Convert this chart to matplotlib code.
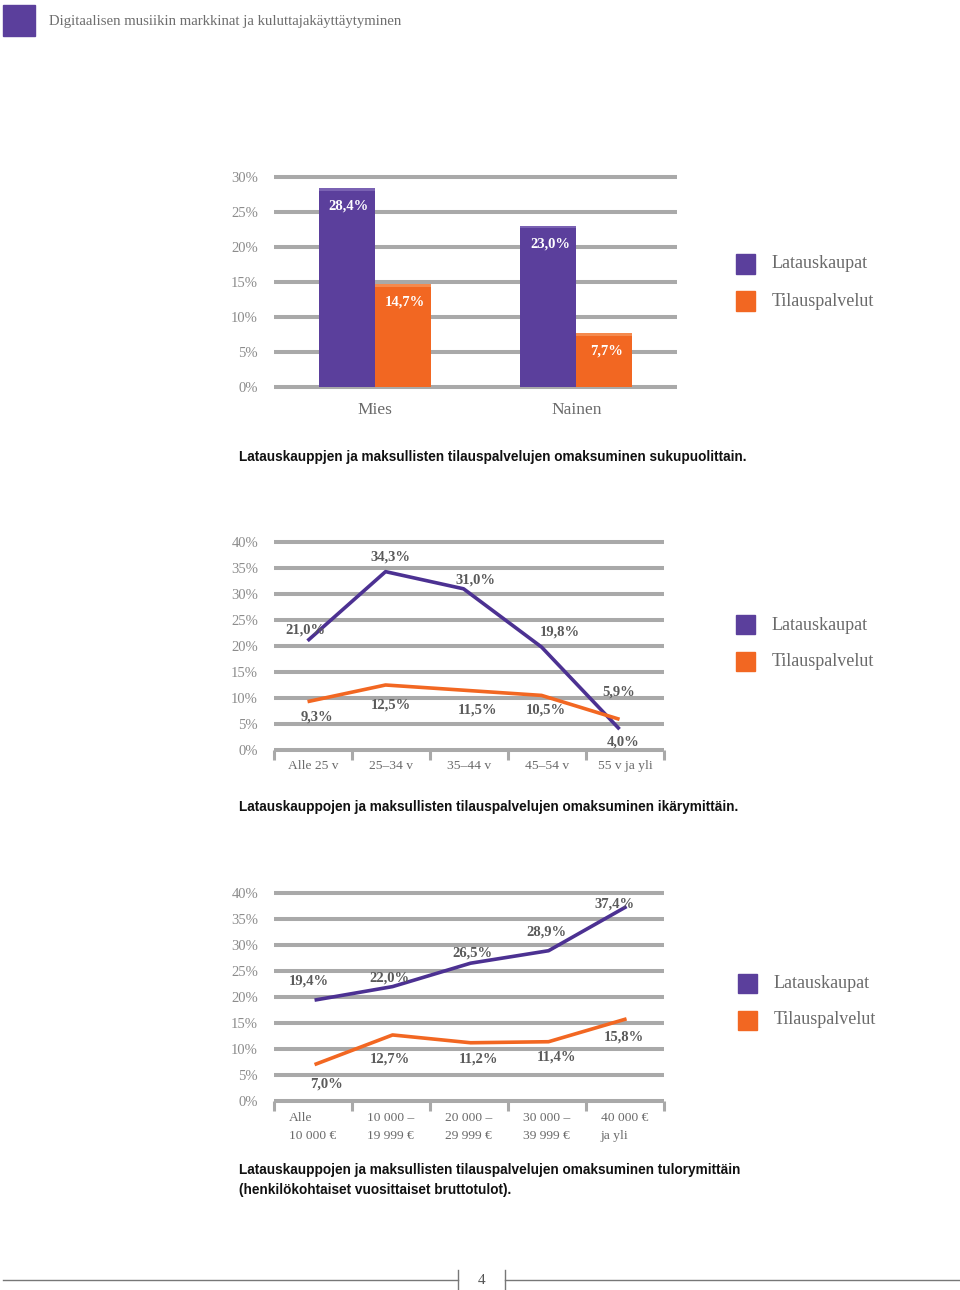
import numpy as np
import matplotlib
matplotlib.use("Agg")
import matplotlib.pyplot as plt
from matplotlib.patches import Rectangle
from matplotlib.lines import Line2D

# --- data ---------------------------------------------------------------
series_names = ["Latauskaupat", "Tilauspalvelut"]

gender_cats = ["Mies", "Nainen"]
gender_lataus = [28.4, 23.0]
gender_tilaus = [14.7, 7.7]

age_cats = ["Alle 25 v", "25–34 v", "35–44 v", "45–54 v", "55 v ja yli"]
age_lataus = [21.0, 34.3, 31.0, 19.8, 4.0]
age_tilaus = [9.3, 12.5, 11.5, 10.5, 5.9]

income_cats = ["Alle\n10 000 €", "10 000 –\n19 999 €", "20 000 –\n29 999 €",
               "30 000 –\n39 999 €", "40 000 €\nja yli"]
income_lataus = [19.4, 22.0, 26.5, 28.9, 37.4]
income_tilaus = [7.0, 12.7, 11.2, 11.4, 15.8]

header = "Digitaalisen musiikin markkinat ja kuluttajakäyttäytyminen"
captions = [
    "Latauskauppjen ja maksullisten tilauspalvelujen omaksuminen sukupuolittain.",
    "Latauskauppojen ja maksullisten tilauspalvelujen omaksuminen ikärymittäin.",
    "Latauskauppojen ja maksullisten tilauspalvelujen omaksuminen tulorymittäin\n(henkilökohtaiset vuosittaiset bruttotulot).",
]
page_no = "4"

# --- style --------------------------------------------------------------
W, H = 960, 1290
PURPLE = "#5b3f9c"
PURPLE_LINE = "#4c3192"
ORANGE = "#f26722"
GRID = "#a9a9a9"
TICK_C = "#8c8c8c"
LABEL_C = "#5a5a5a"
SERIF = ["Liberation Serif", "DejaVu Serif"]
SANS = ["Liberation Sans", "DejaVu Sans"]

plt.rcParams["font.family"] = SERIF

fig = plt.figure(figsize=(W / 100, H / 100), dpi=100)


def fx(x):
    return x / W


def fy(y):
    return 1 - y / H


def make_axes(x0, ytop, x1, ybot):
    return fig.add_axes([fx(x0), fy(ybot), (x1 - x0) / W, (ybot - ytop) / H])


def base_axes(ax, ymax):
    ticks = np.arange(0, ymax + 1, 5)
    for t in ticks:
        ax.axhline(t, color=GRID, lw=2.9, clip_on=False, zorder=0,
                   solid_capstyle="butt")
    ax.set_ylim(0, ymax)
    ax.set_yticks(ticks)
    ax.set_yticklabels([f"{t}%" for t in ticks], color=TICK_C, fontsize=10.5)
    ax.tick_params(axis="y", length=0, pad=11.5)
    for s in ax.spines.values():
        s.set_visible(False)
    ax.set_facecolor("none")


def legend(x, y):
    for i, (name, col) in enumerate(zip(series_names, [PURPLE, ORANGE])):
        yy = y + i * 37
        fig.patches.append(Rectangle((fx(x), fy(yy + 9.5)), 19 / W, 19 / H,
                                     transform=fig.transFigure, color=col))
        fig.text(fx(x + 36), fy(yy), name, fontsize=13, color="#6a6a6a",
                 va="center", ha="left")


def caption(y, text):
    fig.text(fx(239), fy(y), text, fontsize=9.8, fontweight="bold",
             family=SANS, va="center", color="#111111", linespacing=1.6)


# header
fig.patches.append(Rectangle((fx(3), fy(36)), 32 / W, 31 / H,
                             transform=fig.transFigure, color=PURPLE))
fig.text(fx(49), fy(21), header, fontsize=10.6, color="#6e6e6e", va="center")

# --- chart 1: bars ------------------------------------------------------
ax1 = make_axes(274, 177, 677, 387)
base_axes(ax1, 30)
x = np.arange(len(gender_cats))
bw = 0.278
b1 = ax1.bar(x - bw / 2, gender_lataus, bw, color=PURPLE, zorder=2)
b2 = ax1.bar(x + bw / 2, gender_tilaus, bw, color=ORANGE, zorder=2)
# light top edge of bars
ax1.bar(x - bw / 2, [0.35] * len(x), bw, bottom=np.array(gender_lataus) - 0.35,
        color="#7a62b3", zorder=3)
ax1.bar(x + bw / 2, [0.35] * len(x), bw, bottom=np.array(gender_tilaus) - 0.35,
        color="#f58a4e", zorder=3)
for bars, vals in ((b1, gender_lataus), (b2, gender_tilaus)):
    for r, v in zip(bars, vals):
        ax1.annotate(f"{v:.1f}%".replace(".", ","),
                     (r.get_x() + r.get_width() / 2, v),
                     xytext=(2, -18), textcoords="offset pixels",
                     ha="center", va="center", color="white",
                     fontweight="bold", fontsize=10.5, zorder=4)
ax1.set_xlim(-0.5, 1.5)
ax1.set_xticks(x)
ax1.set_xticklabels(gender_cats, fontsize=12.5, color="#6a6a6a")
ax1.tick_params(axis="x", length=0, pad=11)
legend(736, 264)
caption(457, captions[0])


# --- line charts --------------------------------------------------------
def line_chart(ax, cats, lat, til, lat_off, til_off, shift):
    base_axes(ax, 40)
    idx = np.arange(len(cats))
    ax.plot(idx + shift, lat, color=PURPLE_LINE, lw=2.6, zorder=3,
            solid_capstyle="butt")
    ax.plot(idx + shift, til, color=ORANGE, lw=2.6, zorder=3,
            solid_capstyle="butt")
    for vals, offs in ((lat, lat_off), (til, til_off)):
        for i, (v, o) in enumerate(zip(vals, offs)):
            ax.annotate(f"{v:.1f}%".replace(".", ","), (i + shift, v),
                        xytext=o, textcoords="offset pixels", ha="center",
                        va="center", color=LABEL_C, fontweight="bold",
                        fontsize=10.5, zorder=4)
    ax.set_xlim(-0.5, len(cats) - 0.5)
    ax.set_xticks(np.arange(len(cats) + 1) - 0.5, minor=True)
    ax.tick_params(axis="x", which="minor", length=7, width=2.2, color=GRID,
                   direction="out")
    return idx


ax2 = make_axes(274, 542, 664, 750)
idx = line_chart(ax2, age_cats, age_lataus, age_tilaus,
                 [(-2, 11), (5, 15), (12, 9), (18, 15), (4, -13)],
                 [(9, -15), (5, -20), (14, -20), (4, -15), (-1, 27)],
                 -0.07)
ax2.set_xticks(idx)
ax2.set_xticklabels(age_cats, fontsize=9.7, color="#6a6a6a")
ax2.tick_params(axis="x", which="major", length=0, pad=7)
legend(736, 625)
caption(807, captions[1])

ax3 = make_axes(274, 893, 664, 1101)
idx = line_chart(ax3, income_cats, income_lataus, income_tilaus,
                 [(-6, 19), (-3, 9), (2, 10), (-2, 19), (-12, 3)],
                 [(12, -19), (-3, -24), (8, -16), (8, -15), (-3, -18)],
                 0.02)
ax3.set_xticks(idx - 0.31)
ax3.set_xticklabels(income_cats, fontsize=9.7, color="#6a6a6a", ha="left",
                    linespacing=1.65)
ax3.tick_params(axis="x", which="major", length=0, pad=8)
legend(738, 983)
caption(1180, captions[2])

# --- footer -------------------------------------------------------------
fc = "#777777"
fig.lines.append(Line2D([fx(3), fx(458)], [fy(1280), fy(1280)], color=fc,
                        lw=1.0, transform=fig.transFigure))
fig.lines.append(Line2D([fx(505), fx(960)], [fy(1280), fy(1280)], color=fc,
                        lw=1.0, transform=fig.transFigure))
for xx in (458, 505):
    fig.lines.append(Line2D([fx(xx), fx(xx)], [fy(1270), fy(1290)], color=fc,
                            lw=1.0, transform=fig.transFigure))
fig.text(fx(482), fy(1280), page_no, fontsize=11, color="#555555",
         ha="center", va="center")

fig.savefig("out.png", dpi=100, facecolor="white")
